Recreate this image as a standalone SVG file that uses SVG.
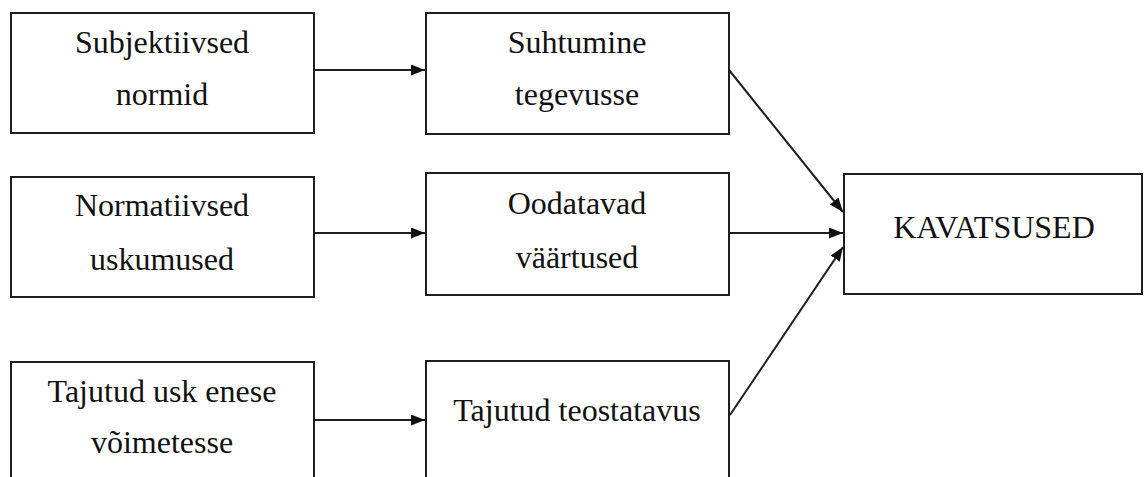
<svg xmlns="http://www.w3.org/2000/svg" width="1145" height="477" viewBox="0 0 1145 477">
<style>
.box{fill:#fff;stroke:#1e1e1e;stroke-width:2}
.t{font-family:"Liberation Serif","Times New Roman",serif;font-size:32px;fill:#111;text-anchor:middle}
.c{stroke:#1e1e1e;stroke-width:2;fill:none}
</style>
<defs>
<marker id="ah" viewBox="0 0 14 11" refX="14" refY="5.5" markerWidth="14" markerHeight="11" markerUnits="userSpaceOnUse" orient="auto">
<path d="M0,0 L14,5.5 L0,11 Z" fill="#111"/>
</marker>
</defs>
<rect width="1145" height="477" fill="#fff"/>
<g id="n1"><rect class="box" x="11" y="13" width="303" height="120"/><text class="t" x="162" y="53">Subjektiivsed</text><text class="t" x="162" y="105">normid</text></g>
<g id="n2"><rect class="box" x="426" y="13" width="303" height="121"/><text class="t" x="577" y="53">Suhtumine</text><text class="t" x="577" y="105">tegevusse</text></g>
<g id="n3"><rect class="box" x="11" y="177" width="303" height="120"/><text class="t" x="162" y="216">Normatiivsed</text><text class="t" x="162" y="270">uskumused</text></g>
<g id="n4"><rect class="box" x="426" y="173" width="303" height="122"/><text class="t" x="577" y="214">Oodatavad</text><text class="t" x="577" y="268">väärtused</text></g>
<g id="n5"><rect class="box" x="11" y="362" width="303" height="130"/><text class="t" x="162" y="402">Tajutud usk enese</text><text class="t" x="162" y="453">võimetesse</text></g>
<g id="n6"><rect class="box" x="426" y="361" width="303" height="130"/><text class="t" x="577" y="421">Tajutud teostatavus</text></g>
<g id="n7"><rect class="box" x="844" y="174" width="298" height="120"/><text class="t" x="994" y="238">KAVATSUSED</text></g>
<g id="connectors">
<line class="c" x1="314" y1="70" x2="425" y2="70" marker-end="url(#ah)"/>
<line class="c" x1="314" y1="233" x2="425" y2="233" marker-end="url(#ah)"/>
<line class="c" x1="314" y1="420" x2="425" y2="420" marker-end="url(#ah)"/>
<line class="c" x1="729" y1="70" x2="843" y2="212" marker-end="url(#ah)"/>
<line class="c" x1="729" y1="233" x2="843" y2="233" marker-end="url(#ah)"/>
<line class="c" x1="730" y1="415" x2="843" y2="247" marker-end="url(#ah)"/>
</g>
</svg>
